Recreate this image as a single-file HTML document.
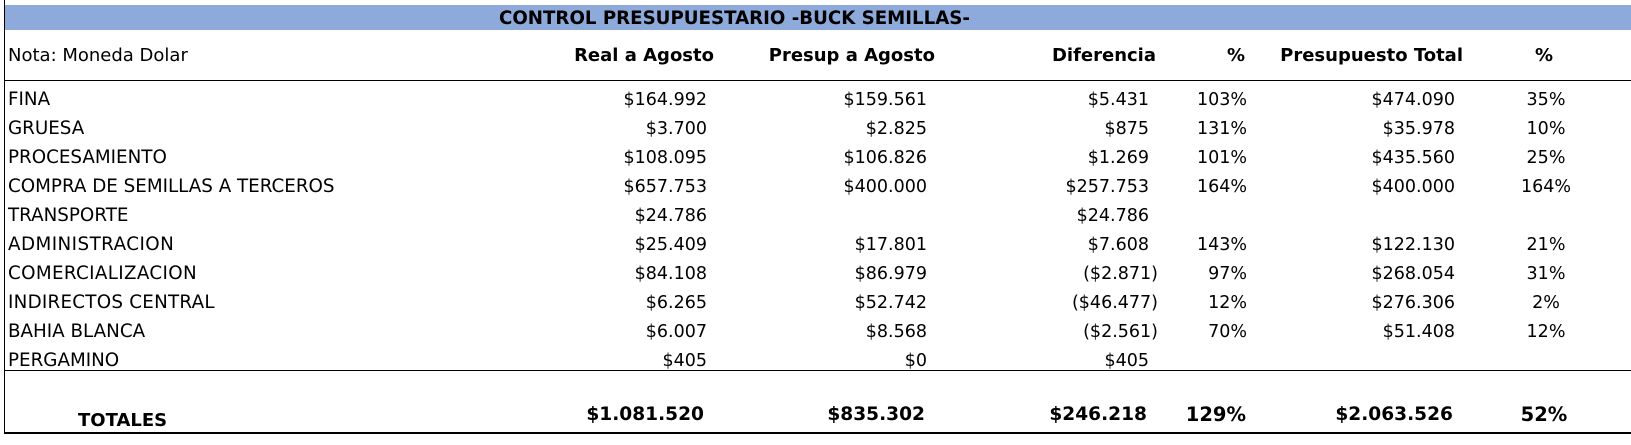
<!DOCTYPE html>
<html lang="es">
<head>
<meta charset="utf-8">
<title>Control Presupuestario</title>
<style>
html,body{margin:0;padding:0;background:#fff;}
#sheet{position:relative;width:1631px;height:445px;overflow:hidden;background:#fff;color:#000;font-family:"DejaVu Sans","Liberation Sans",sans-serif;font-size:17.5px;}
#sheet div{position:absolute;white-space:nowrap;}
.rule{background:#000;left:4px;right:0;height:1px;}
.row{left:0;width:1631px;height:24px;line-height:24px;}
.row span{position:absolute;top:0;left:0;text-align:right;white-space:nowrap;}
.lab{left:8px !important;text-align:left !important;font-size:18.3px;}
.c1{width:707px;}
.c2{width:927px;}
.c3{width:1149px;}
.c4{width:1247px;}
.c5{width:1455px;}
.c6{left:1496px !important;width:100px;text-align:center !important;}
.head{font-weight:bold;font-size:18px;}
.total{font-weight:bold;font-size:18.6px;}
</style>
</head>
<body>
<div id="sheet">
  <div style="left:5px;right:0;top:5px;height:25px;background:#8eaadb;"></div>
  <div style="left:499px;top:6px;line-height:25px;font-weight:bold;font-size:18.2px;">CONTROL PRESUPUESTARIO -BUCK SEMILLAS-</div>
  <div style="left:4px;top:0;width:1px;height:433px;background:#000;"></div>
  <div class="rule" style="top:80px;"></div>
  <div class="rule" style="top:370px;"></div>
  <div class="rule" style="top:432px;height:2px;"></div>

  <div class="row head" style="top:44px;">
    <span class="lab" style="font-weight:normal;font-size:18px;">Nota: Moneda Dolar</span>
    <span style="width:714px">Real a Agosto</span>
    <span style="width:935px">Presup a Agosto</span>
    <span style="width:1156px">Diferencia</span>
    <span style="width:1245px">%</span>
    <span style="width:1463px">Presupuesto Total</span>
    <span style="left:1494px;width:100px;text-align:center;">%</span>
  </div>

  <div class="row" style="top:88px;"><span class="lab">FINA</span><span class="c1">$164.992</span><span class="c2">$159.561</span><span class="c3">$5.431</span><span class="c4">103%</span><span class="c5">$474.090</span><span class="c6">35%</span></div>
  <div class="row" style="top:117px;"><span class="lab">GRUESA</span><span class="c1">$3.700</span><span class="c2">$2.825</span><span class="c3">$875</span><span class="c4">131%</span><span class="c5">$35.978</span><span class="c6">10%</span></div>
  <div class="row" style="top:146px;"><span class="lab">PROCESAMIENTO</span><span class="c1">$108.095</span><span class="c2">$106.826</span><span class="c3">$1.269</span><span class="c4">101%</span><span class="c5">$435.560</span><span class="c6">25%</span></div>
  <div class="row" style="top:175px;"><span class="lab">COMPRA DE SEMILLAS A TERCEROS</span><span class="c1">$657.753</span><span class="c2">$400.000</span><span class="c3">$257.753</span><span class="c4">164%</span><span class="c5">$400.000</span><span class="c6">164%</span></div>
  <div class="row" style="top:204px;"><span class="lab">TRANSPORTE</span><span class="c1">$24.786</span><span class="c3">$24.786</span></div>
  <div class="row" style="top:233px;"><span class="lab" style="letter-spacing:.45px">ADMINISTRACION</span><span class="c1">$25.409</span><span class="c2">$17.801</span><span class="c3">$7.608</span><span class="c4">143%</span><span class="c5">$122.130</span><span class="c6">21%</span></div>
  <div class="row" style="top:262px;"><span class="lab" style="letter-spacing:.35px">COMERCIALIZACION</span><span class="c1">$84.108</span><span class="c2">$86.979</span><span style="width:1158px">($2.871)</span><span class="c4">97%</span><span class="c5">$268.054</span><span class="c6">31%</span></div>
  <div class="row" style="top:291px;"><span class="lab" style="letter-spacing:.25px">INDIRECTOS CENTRAL</span><span class="c1">$6.265</span><span class="c2">$52.742</span><span style="width:1158px">($46.477)</span><span class="c4">12%</span><span class="c5">$276.306</span><span class="c6">2%</span></div>
  <div class="row" style="top:320px;"><span class="lab">BAHIA BLANCA</span><span class="c1">$6.007</span><span class="c2">$8.568</span><span style="width:1158px">($2.561)</span><span class="c4">70%</span><span class="c5">$51.408</span><span class="c6">12%</span></div>
  <div class="row" style="top:349px;"><span class="lab">PERGAMINO</span><span class="c1">$405</span><span class="c2">$0</span><span class="c3">$405</span></div>

  <div class="row total" style="top:403px;">
    <span style="left:78px;top:6px;font-size:18px;">TOTALES</span>
    <span style="width:704px">$1.081.520</span>
    <span style="width:925px">$835.302</span>
    <span style="width:1147px">$246.218</span>
    <span style="width:1246px;font-size:19.5px;">129%</span>
    <span style="width:1453px">$2.063.526</span>
    <span style="left:1494px;width:100px;text-align:center;font-size:19.5px;">52%</span>
  </div>
</div>
</body>
</html>
